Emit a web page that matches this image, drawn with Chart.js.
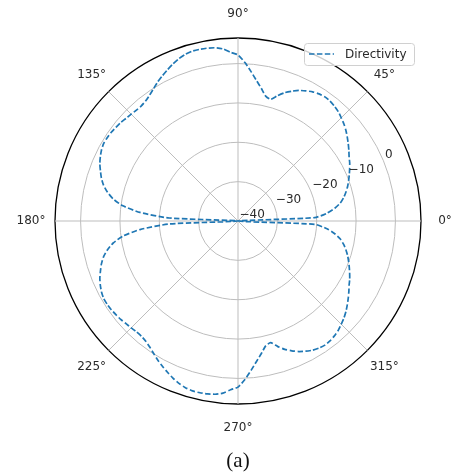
<!DOCTYPE html>
<html>
<head>
<meta charset="utf-8">
<script src="https://cdn.jsdelivr.net/npm/chart.js@4.4.0/dist/chart.umd.min.js"></script>
<style>
  body { margin: 0; background: #fff; }
  #wrap { position: relative; width: 452px; height: 474px; }
  #caption { position: absolute; left: 238px; top: 448px; transform: translateX(-50%);
             font: 21px "Liberation Serif", serif; color: #111; }
</style>
</head>
<body>
<div id="wrap">
  <canvas id="myChart" width="452" height="474"></canvas>
  <div id="caption">(a)</div>
</div>
<script>
// polar directivity pattern, dB, sampled every 2.5 deg counter-clockwise from 0 deg
var angleStep = 2.5;
var angleDeg = Array.from({length: 144}, (_, i) => i * angleStep);
const directivity = [
  -40, -20.5, -17.3, -15.2, -13.6, -12.5, -11.6, -10.8, -10.1, -9.4,
  -8.7, -8.0, -7.4, -6.6, -5.8, -5.0, -4.2, -3.5, -2.9, -2.3,
  -1.9, -1.6, -1.5, -1.7, -2.1, -2.7, -3.4, -4.3, -5.3, -6.6,
  -8.0, -7.5, -5.8, -4.0, -1.9, 0.3, 2.2, 2.9, 3.9, 4.4,
  4.6, 4.7, 4.7, 4.4, 3.9, 3.2, 2.4, 1.6, 0.8, -0.1,
  -0.9, -1.5, -1.8, -1.8, -1.6, -1.4, -1.1, -0.9, -0.7, -0.6,
  -0.6, -0.9, -1.4, -2.0, -2.8, -3.6, -4.6, -6.0, -7.8, -10.5,
  -15.0, -22.5, -40,
  -22.5, -15.0, -10.5, -7.8, -6.0, -4.6, -3.6, -2.8, -2.0, -1.4,
  -0.9, -0.6, -0.6, -0.7, -0.9, -1.1, -1.4, -1.6, -1.8, -1.8,
  -1.5, -0.9, -0.1, 0.8, 1.6, 2.4, 3.2, 3.9, 4.4, 4.7,
  4.7, 4.6, 4.4, 3.9, 2.9, 2.2, 0.3, -1.9, -4.0, -5.8,
  -7.5, -8.0, -6.6, -5.3, -4.3, -3.4, -2.7, -2.1, -1.7, -1.5,
  -1.6, -1.9, -2.3, -2.9, -3.5, -4.2, -5.0, -5.8, -6.6, -7.4,
  -8.0, -8.7, -9.4, -10.1, -10.8, -11.6, -12.5, -13.6, -15.2, -17.3,
  -20.5
];
const angleTicks = [0, 45, 90, 135, 180, 225, 270, 315];
const radialTicks = [-40, -30, -20, -10, 0];
var rMin = -40;
var rMax = 6.5;

// chart.js radar runs clockwise, so reorder the samples
var n = angleDeg.length;
var labelsCW = [];
var valuesCW = [];
for (var i = 0; i < n; i++) {
  var k = (n - i) % n;
  labelsCW.push(angleDeg[k]);
  valuesCW.push(directivity[k]);
}

var txtColor = '#2a2a2a';
var font12 = '12px "DejaVu Sans"';

// angle labels, r labels and the legend box
const polarText = {
  id: 'polarText',
  afterDraw(chart) {
    const ctx = chart.ctx;
    const s = chart.scales.r;
    ctx.save();
    ctx.fillStyle = txtColor;
    ctx.font = font12;
    ctx.textAlign = 'center';
    ctx.textBaseline = 'middle';
    angleTicks.forEach(a => {
      const idx = labelsCW.indexOf(a);
      const p = s.getPointPosition(idx, s.drawingArea + 24);
      ctx.fillText(a + '°', p.x, p.y);
    });

    ctx.textAlign = 'left';
    ctx.textBaseline = 'bottom';
    const ang = 22.5 * Math.PI / 180;
    radialTicks.forEach(v => {
      const d = s.getDistanceFromCenterForValue(v);
      const x = s.xCenter + d * Math.cos(ang) + 1.5;
      const y = s.yCenter - d * Math.sin(ang);
      ctx.fillText(String(v).replace('-', '\u2212'), x, y);
    });

    // legend
    ctx.beginPath();
    ctx.roundRect(304.5, 43.5, 110, 22, 3);
    ctx.fillStyle = 'rgba(255,255,255,0.8)';
    ctx.fill();
    ctx.strokeStyle = '#d0d0d0';
    ctx.lineWidth = 1;
    ctx.stroke();
    ctx.beginPath();
    ctx.setLineDash([5.5, 2.4]);
    ctx.strokeStyle = '#1f77b4';
    ctx.lineWidth = 1.7;
    ctx.moveTo(309, 54);
    ctx.lineTo(334, 54);
    ctx.stroke();
    ctx.setLineDash([]);
    ctx.fillStyle = txtColor;
    ctx.textBaseline = 'middle';
    ctx.fillText('Directivity', 345, 55);
    ctx.restore();
  }
};

const chart = new Chart("myChart", {
  type: "radar",
  data: {
    labels: labelsCW,
    datasets: [{
      data: valuesCW,
      label: "Directivity",
      borderColor: "#1f77b4",
      borderWidth: 1.7,
      borderDash: [5.5, 2.4],
      pointRadius: 0,
      tension: 0.2,
      fill: false
    }]
  },
  options: {
    responsive: false,
    animation: false,
    layout: { padding: { left: 55, right: 31, top: 38, bottom: 70 } },
    plugins: {
      legend: { display: false },
      tooltip: { enabled: false }
    },
    scales: {
      r: {
        min: rMin,
        max: rMax,
        startAngle: 90,
        afterBuildTicks: function (scale) {
          scale.ticks = radialTicks.concat([rMax]).map(v => ({ value: v }));
        },
        ticks: { display: false },
        pointLabels: { display: false },
        grid: {
          circular: true,
          color: (c) => c.tick && c.tick.value === rMax ? '#000000' : '#bdbdbd',
          lineWidth: (c) => c.tick && c.tick.value === rMax ? 1.3 : 1
        },
        angleLines: {
          color: '#bdbdbd',
          lineWidth: (c) => angleTicks.indexOf(labelsCW[c.index]) >= 0 ? 1 : 0
        }
      }
    }
  },
  plugins: [polarText]
});
</script>
</body>
</html>
